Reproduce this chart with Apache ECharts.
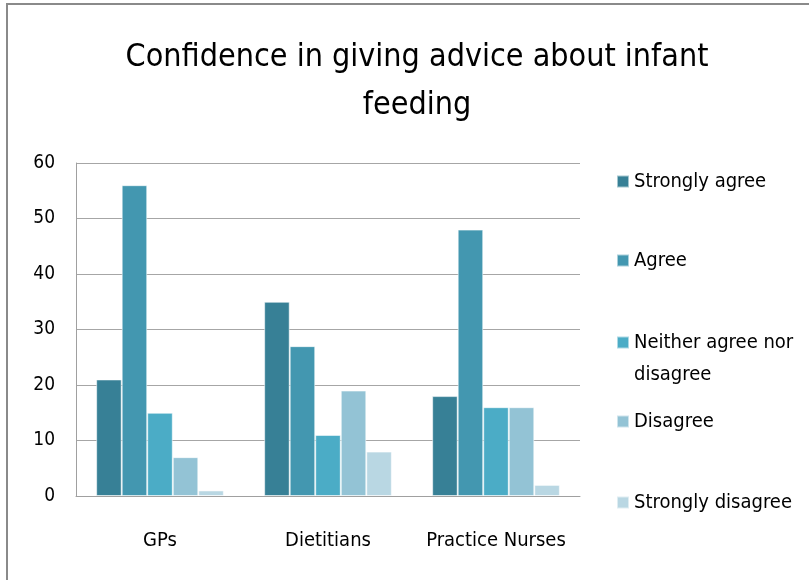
<!DOCTYPE html>
<html>
<head>
<meta charset="utf-8">
<script src="https://cdn.jsdelivr.net/npm/echarts@6/dist/echarts.min.js"></script>
<style>
html,body{margin:0;padding:0;background:#fff;}
#chart{width:809px;height:580px;}
</style>
</head>
<body>
<div id="chart"></div>
<script>
const categories = ['GPs', 'Dietitians', 'Practice Nurses'];
const seriesNames = ['Strongly agree', 'Agree', 'Neither agree nor disagree', 'Disagree', 'Strongly disagree'];
const stronglyAgree = [21, 35, 18];
const agree = [56, 27, 48];
const neither = [15, 11, 16];
const disagree = [7, 19, 16];
const stronglyDisagree = [1, 8, 2];
const yTicks = [0, 10, 20, 30, 40, 50, 60];
const colors = ['#378096', '#4397B0', '#4BACC6', '#93C3D5', '#B9D7E3'];
const titleText = 'Confidence in giving advice about infant\nfeeding';

const values = [stronglyAgree, agree, neither, disagree, stronglyDisagree];
const FONT = "'Liberation Sans Narrow', 'DejaVu Sans Condensed', Lato, sans-serif";
const legendTops = [166, 245, 327, 406, 487];

const chart = echarts.init(document.getElementById('chart'));
chart.setOption({
  animation: false,
  textStyle: {fontFamily: FONT},
  color: colors,
  title: {
    text: titleText,
    left: 412, top: 29, textAlign: 'center',
    textStyle: {fontFamily: FONT, fontSize: 32, fontWeight: 'normal', color: '#000', lineHeight: 48}
  },
  graphic: [{
    type: 'rect', shape: {x: 7, y: 4, width: 900, height: 700},
    style: {fill: 'none', stroke: '#8a8a8a', lineWidth: 2}, silent: true
  }, {
    type: 'text', left: 634, top: 365,
    style: {text: 'disagree', font: '20px ' + FONT, fill: '#000'}, silent: true
  }],
  legend: seriesNames.map((n, i) => ({
    data: [n], left: 616, top: legendTops[i], orient: 'vertical', padding: 0,
    itemWidth: 12, itemHeight: 12, itemGap: 6,
    icon: 'rect',
    formatter: (name) => name === 'Neither agree nor disagree' ? 'Neither agree nor' : name,
    textStyle: {fontFamily: FONT, fontSize: 20, color: '#000', lineHeight: 31}
  })),
  grid: {left: 76, right: 229, top: 163, bottom: 84, containLabel: false},
  xAxis: {
    type: 'category', data: categories,
    axisLine: {lineStyle: {color: '#a0a0a0', width: 1}},
    axisTick: {show: false},
    axisLabel: {color: '#000', fontSize: 20, fontFamily: FONT, margin: 35, interval: 0}
  },
  yAxis: {
    type: 'value', min: 0, max: 60, interval: 10,
    axisLine: {show: true, lineStyle: {color: '#a0a0a0', width: 1}},
    axisTick: {show: false},
    splitLine: {lineStyle: {color: '#a6a6a6', width: 1}},
    axisLabel: {color: '#000', fontSize: 19, fontFamily: FONT, margin: 21,
      formatter: (v) => yTicks.includes(v) ? String(v) : ''}
  },
  series: seriesNames.map((n, i) => ({
    name: n, type: 'bar', data: values[i],
    barGap: '0%', barCategoryGap: '24%',
    itemStyle: {color: colors[i], borderColor: 'rgba(255,255,255,0.55)', borderWidth: 1}
  }))
});
</script>
</body>
</html>
